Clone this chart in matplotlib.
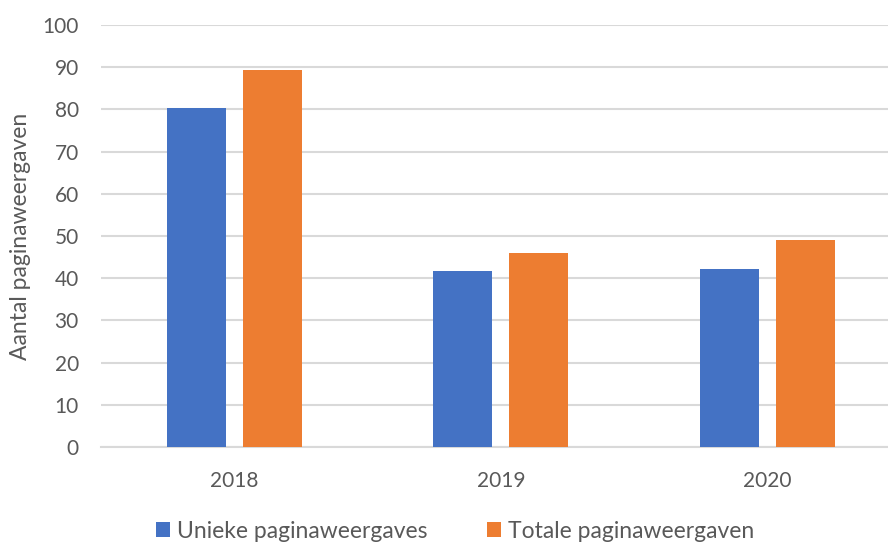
import numpy as np
import matplotlib.pyplot as plt

# Data
years = ['2018', '2019', '2020']
unieke = [80.3, 41.6, 42.2]
totale = [89.4, 46.0, 49.0]

plt.rcParams['font.family'] = ['Lato', 'DejaVu Sans']

fig = plt.figure(figsize=(8.88, 5.42), dpi=100)
ax = fig.add_axes([101 / 888, 1 - 447 / 542, 1 - 101 / 888, (447 - 25) / 542])

x = np.arange(len(years))
width = 0.221
offset = 0.1426
ax.bar(x - offset, unieke, width, color='#4472c4', label='Unieke paginaweergaves', zorder=3)
ax.bar(x + offset, totale, width, color='#ed7d31', label='Totale paginaweergaven', zorder=3)

ax.set_xlim(-0.5, 2.452)
ax.set_ylim(0, 100)
ax.set_yticks(np.arange(0, 101, 10))
ax.set_xticks(x)
ax.set_xticklabels(years)

ax.grid(axis='y', color='#d9d9d9', linewidth=1.5, zorder=0)
for side in ['top', 'right', 'left']:
    ax.spines[side].set_visible(False)
ax.spines['bottom'].set_color('#d9d9d9')
ax.spines['bottom'].set_linewidth(1.5)
ax.tick_params(axis='both', length=0, labelsize=15, colors='#595959')
ax.tick_params(axis='y', pad=16)
ax.tick_params(axis='x', pad=17)

ax.set_ylabel('Aantal paginaweergaven', fontsize=16.5, color='#595959', labelpad=8)

fig.legend(loc='center', bbox_to_anchor=(455 / 888, 1 - 531 / 542), ncol=2, frameon=False,
           fontsize=16.5, labelcolor='#595959', handlelength=0.6, handleheight=0.6,
           handletextpad=0.3, columnspacing=2.6)

fig.savefig('out.png', dpi=100)
